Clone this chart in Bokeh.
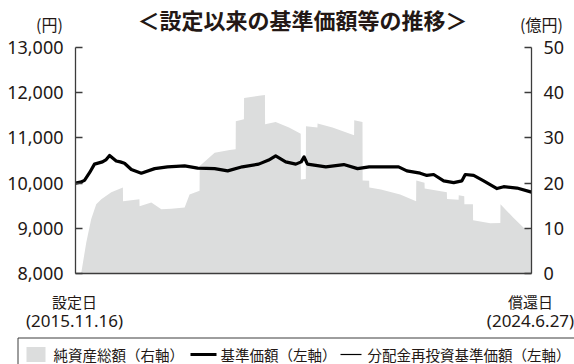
import pandas as pd
from bokeh.plotting import figure
from bokeh.models import Range1d, LinearAxis, FixedTicker, NumeralTickFormatter
from bokeh.core.properties import value
from bokeh.embed import file_html
from bokeh.resources import INLINE

# 基準価額（円）
nav_dates = [
    "2015-11-16", "2015-12-20", "2016-01-17", "2016-02-21", "2016-03-26", "2016-05-20",
    "2016-06-15", "2016-07-08", "2016-08-23", "2016-09-20", "2016-10-19", "2016-12-05",
    "2017-02-12", "2017-05-15", "2017-08-12", "2017-12-08", "2018-03-08", "2018-07-03",
    "2018-10-01", "2019-01-10", "2019-05-03", "2019-07-11", "2019-08-28", "2019-11-05",
    "2020-01-14", "2020-02-20", "2020-03-11", "2020-04-03", "2020-08-08", "2020-12-10",
    "2021-03-15", "2021-06-03", "2021-08-23", "2021-12-23", "2022-02-18", "2022-05-21",
    "2022-07-06", "2022-08-22", "2022-10-30", "2023-01-07", "2023-03-05", "2023-03-28",
    "2023-05-25", "2023-08-02", "2023-11-02", "2023-12-18", "2024-03-19", "2024-06-27",
]
nav_values = [
    10000, 10020, 10060, 10230, 10420, 10470,
    10520, 10610, 10490, 10470, 10440, 10300,
    10220, 10320, 10360, 10380, 10330, 10320,
    10270, 10360, 10420, 10510, 10600, 10470,
    10420, 10470, 10580, 10420, 10360, 10410,
    10320, 10360, 10360, 10360, 10270, 10220,
    10170, 10190, 10050, 10010, 10050, 10190,
    10170, 10050, 9880, 9920, 9890, 9800,
]
# 分配金再投資基準価額（円）: 分配実績なしのため基準価額と同値
reinvest_values = list(nav_values)

# 純資産総額（億円）
aum_dates = [
    "2015-11-16", "2015-12-25", "2016-01-29", "2016-03-03", "2016-04-07", "2016-05-12",
    "2016-07-20", "2016-10-08", "2016-10-09", "2017-01-30", "2017-01-31", "2017-04-22",
    "2017-06-30", "2017-09-07", "2017-12-08", "2018-01-11", "2018-03-21", "2018-03-22",
    "2018-07-03", "2018-10-15", "2018-11-25", "2018-11-26", "2019-01-21", "2019-01-22",
    "2019-05-05", "2019-06-15", "2019-06-16", "2019-08-28", "2019-11-28", "2020-02-17",
    "2020-02-18", "2020-03-23", "2020-03-24", "2020-06-11", "2020-06-12", "2020-09-23",
    "2021-02-19", "2021-02-20", "2021-04-18", "2021-04-19", "2021-06-03", "2021-06-04",
    "2021-08-23", "2022-01-03", "2022-04-23", "2022-04-24", "2022-06-20", "2022-06-21",
    "2022-11-21", "2022-11-22", "2023-02-10", "2023-02-11", "2023-03-21", "2023-03-22",
    "2023-05-20", "2023-05-21", "2023-09-17", "2023-11-25", "2023-11-26", "2024-02-25",
    "2024-05-04", "2024-06-27",
]
aum_values = [
    0, 0, 6.8, 12.0, 15.3, 16.4,
    18.0, 19.0, 16.0, 16.4, 14.9, 15.7,
    14.2, 14.3, 14.6, 17.5, 18.3, 23.8,
    26.7, 27.3, 27.5, 33.7, 34.1, 38.8,
    39.3, 39.5, 33.0, 33.5, 32.3, 30.9,
    20.8, 20.9, 32.6, 32.3, 33.2, 32.3,
    30.6, 33.9, 33.5, 20.6, 20.5, 19.0,
    18.6, 17.5, 16.0, 20.6, 20.1, 18.8,
    18.0, 16.5, 16.3, 17.3, 17.1, 15.3,
    15.3, 11.8, 11.1, 11.2, 15.3, 12.3,
    10.1, 9.6,
]

yen_ticks = [8000, 9000, 10000, 11000, 12000, 13000]
oku_ticks = [0, 10, 20, 30, 40, 50]
start_date, end_date = "2015-11-16", "2024-06-27"
start_text = ["設定日", "(2015.11.16)"]
end_text = ["償還日", "(2024.6.27)"]
title_text = "＜設定以来の基準価額等の推移＞"
unit_texts = ["(円)", "(億円)"]
legend_labels = ["純資産総額（右軸）", "基準価額（左軸）", "分配金再投資基準価額（左軸）"]

AREA = "#dcdddd"
INK = "#231815"
AXIS = "#3c3c3c"
CJK = "Noto Sans CJK JP"
LATIN = "Noto Sans"

# canvas size and where the plotting box sits inside it (pixels from top-left)
W, H = 574, 364
LEFT, RIGHT, TOP, BOTTOM = 75, 531, 47, 273

# the frame fills the whole canvas; data ranges are widened so that the
# plotting box lands at LEFT..RIGHT / TOP..BOTTOM
ms0 = pd.Timestamp(start_date).value / 1e6
ms1 = pd.Timestamp(end_date).value / 1e6
ms_px = (ms1 - ms0) / (RIGHT - LEFT)
yen_px = (yen_ticks[-1] - yen_ticks[0]) / (BOTTOM - TOP)
oku_px = (oku_ticks[-1] - oku_ticks[0]) / (BOTTOM - TOP)

p = figure(
    width=W, height=H,
    x_range=Range1d(ms0 - LEFT * ms_px, ms1 + (W - RIGHT) * ms_px),
    y_range=Range1d(yen_ticks[0] - (H - BOTTOM) * yen_px, yen_ticks[-1] + TOP * yen_px),
    x_axis_location=None, y_axis_location=None,
    output_backend="svg", toolbar_location=None, title=None, min_border=0,
)
p.extra_y_ranges = {
    "right": Range1d(oku_ticks[0] - (H - BOTTOM) * oku_px, oku_ticks[-1] + TOP * oku_px),
    "py": Range1d(H, 0),
}
p.extra_x_ranges = {"px": Range1d(0, W)}
p.outline_line_color = None
p.grid.visible = False
p.background_fill_color = "white"
p.border_fill_color = "white"

# net assets (right axis)
p.varea(x=pd.to_datetime(aum_dates), y1=0, y2=aum_values, fill_color=AREA,
        y_range_name="right")
# reinvested NAV (thin) and NAV (thick)
nav_x = pd.to_datetime(nav_dates)
p.line(nav_x, reinvest_values, line_color="black", line_width=1)
p.line(nav_x, nav_values, line_color="black", line_width=3.2, line_join="round")


def style_axis(ax):
    ax.major_tick_in = 7
    ax.major_tick_out = 0
    ax.minor_tick_in = 0
    ax.minor_tick_out = 0
    ax.major_label_standoff = 12
    ax.major_label_text_font = LATIN
    ax.major_label_text_font_size = "18px"
    ax.major_label_text_color = INK
    ax.axis_line_color = AXIS
    ax.axis_line_width = 1.3
    ax.major_tick_line_color = AXIS
    ax.major_tick_line_width = 1.3


la = LinearAxis(fixed_location=ms0, bounds=(yen_ticks[0], yen_ticks[-1]),
                ticker=FixedTicker(ticks=yen_ticks),
                formatter=NumeralTickFormatter(format="0,0"))
style_axis(la)
p.add_layout(la, "left")

ra = LinearAxis(y_range_name="right", fixed_location=ms1,
                bounds=(oku_ticks[0], oku_ticks[-1]), ticker=FixedTicker(ticks=oku_ticks))
style_axis(ra)
p.add_layout(ra, "right")

ba = LinearAxis(fixed_location=yen_ticks[0], bounds=(ms0, ms1), ticker=FixedTicker(ticks=[]))
style_axis(ba)
ba.major_tick_in = 0
ba.major_label_text_font_size = "0px"
p.add_layout(ba, "below")


def put(texts, xs, ys, size, font=CJK, style="normal", align="center"):
    p.text(x=xs, y=ys, text=texts, x_range_name="px", y_range_name="py",
           text_font=value(font), text_font_size=value(size), text_font_style=style,
           text_align=align, text_baseline="middle", text_color=INK)


put([title_text], [302], [18], "22px", style="bold")
put(unit_texts, [49, 541], [23, 23], "16px")
put([start_text[0], end_text[0]], [74, 530], [301, 301], "15px")
put([start_text[1], end_text[1]], [74, 530], [320, 320], "17px", font=LATIN)

# legend strip along the bottom edge
p.quad(left=[17.5], right=[620], top=[337.5], bottom=[400], fill_color=None,
       line_color=AXIS, line_width=1, x_range_name="px", y_range_name="py")
p.quad(left=[26], right=[45], top=[346.5], bottom=[361.5], fill_color=AREA, line_color=None,
       x_range_name="px", y_range_name="py")
p.line(x=[190, 216], y=[354, 354], line_color="black", line_width=3,
       x_range_name="px", y_range_name="py")
p.line(x=[340, 361], y=[354, 354], line_color="black", line_width=1.2,
       x_range_name="px", y_range_name="py")
put(legend_labels, [53, 220, 367], [353.5, 353.5, 353.5], "14.5px", align="left")

open("out.html", "w").write(file_html(p, INLINE))
